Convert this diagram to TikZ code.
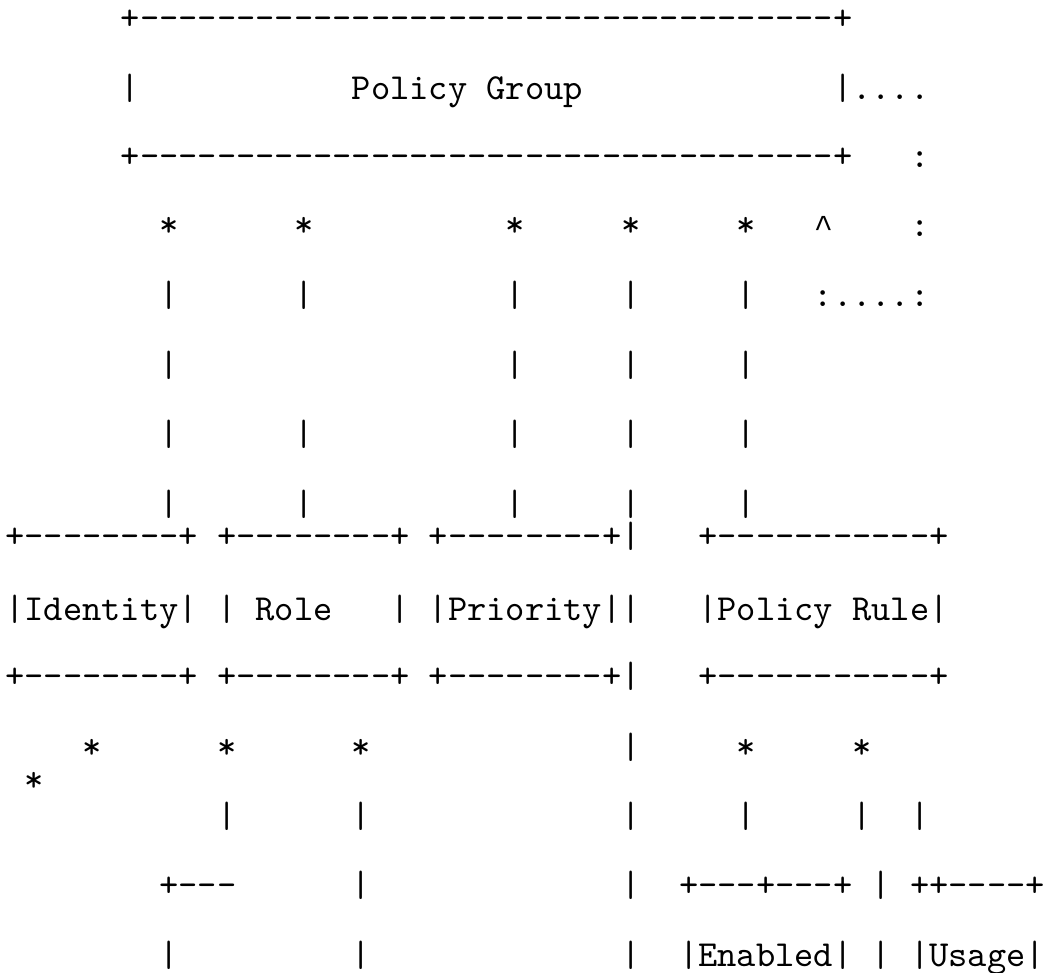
\documentclass[tikz,border=0pt]{standalone}
\usepackage{fontspec}
\setmonofont{lmmono10-regular.otf}
\newfontfamily\caretfont{Liberation Mono}
\tikzset{
  asc/.style={anchor=base west, inner sep=0pt, outer sep=0pt,
    font=\ttfamily\fontsize{27.5pt}{30pt}\selectfont, text=black},
  caretstyle/.style={asc, font=\caretfont\fontsize{24pt}{28pt}\selectfont}
}
% #1 name, #2 column, #3 vertical centre of the row (px), #4 text
\newcommand\putrow[4]{\node[asc] (#1) at ({5.375+19.25*#2},{#3+9}) {#4};}
\begin{document}
\begin{tikzpicture}[x=0.75pt,y=-0.75pt]
\useasboundingbox (0,0) rectangle (1044,972);
\clip (0,0) rectangle (1044,972);
% Policy Group box
\putrow{pgtop}{6}{20}{+------------------------------------+}
\putrow{pgl}{6}{90}{|}
\putrow{pglabel}{18}{90}{Policy~Group}
\putrow{pgr}{43}{90}{|....}
\putrow{pgbot}{6}{158}{+------------------------------------+}
\putrow{loopa}{47}{158}{:}
% stars below Policy Group
\foreach \c in {8,15,26,32,38} {\putrow{st\c}{\c}{227}{*}}
\node[caretstyle] (caret) at ({5.375+19.25*42},{227+10}) {\char"5E};
\putrow{loopb}{47}{227}{:}
\putrow{loopc}{42}{297}{:....:}
% vertical connectors
\foreach \y/\cols in {297/{8,15,26,32,38},367/{8,26,32,38},436/{8,15,26,32,38},506/{8,15,26,32,38}}{
  \foreach \c in \cols {\putrow{v\c-\y}{\c}{\y}{|}}
}
% boxes row
\putrow{idtop}{0}{538}{+--------+}
\putrow{idmid}{0}{611}{|Identity|}
\putrow{idbot}{0}{678}{+--------+}
\putrow{roletop}{11}{538}{+--------+}
\putrow{rolemid}{11}{611}{|~Role~~~|}
\putrow{rolebot}{11}{678}{+--------+}
\putrow{priotop}{22}{538}{+--------+}
\putrow{priomid}{22}{611}{|Priority|}
\putrow{priobot}{22}{678}{+--------+}
\putrow{ruletop}{36}{538}{+-----------+}
\putrow{rulemid}{36}{611}{|Policy~Rule|}
\putrow{rulebot}{36}{678}{+-----------+}
% long line at column 32
\foreach \y in {538,611,678,749,818,887,957} {\putrow{lng\y}{32}{\y}{|}}
% stars below boxes
\foreach \c in {4,11,18,38,44} {\putrow{sb\c}{\c}{749}{*}}
\putrow{sbx}{1}{782}{*}
\foreach \c in {11,18,38,44,47} {\putrow{w\c}{\c}{818}{|}}
% lower part
\putrow{idline}{8}{887}{+---}
\putrow{w18b}{18}{887}{|}
\putrow{entop}{35}{887}{+---+---+}
\putrow{w45}{45}{887}{|}
\putrow{ustop}{47}{887}{++----+}
\putrow{w8c}{8}{957}{|}
\putrow{w18c}{18}{957}{|}
\putrow{enmid}{35}{957}{|Enabled|}
\putrow{w45c}{45}{957}{|}
\putrow{usmid}{47}{957}{|Usage|}
\end{tikzpicture}
\end{document}
